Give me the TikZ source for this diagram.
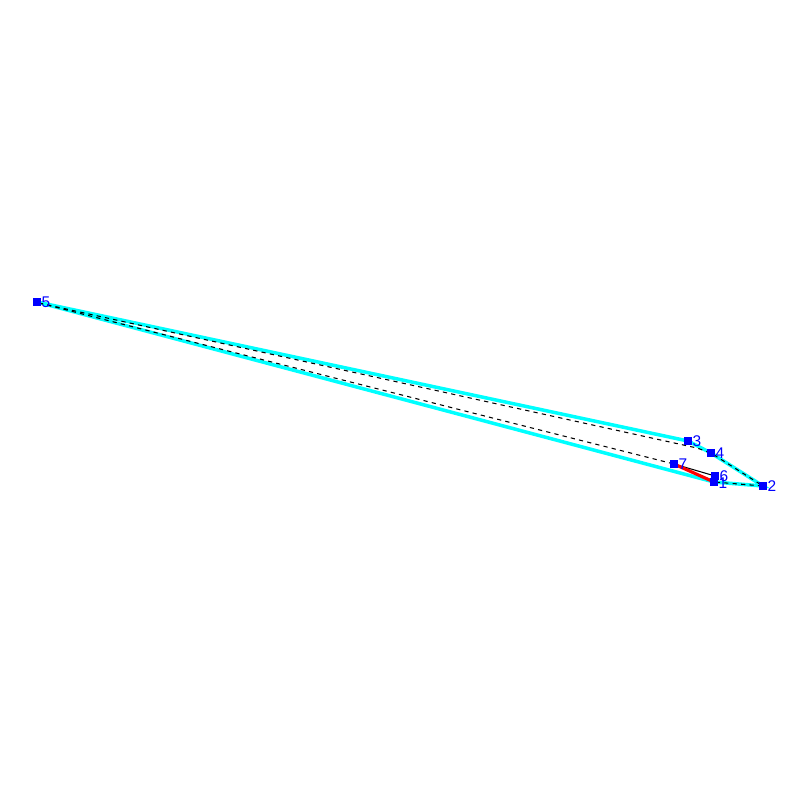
\documentclass[tikz,border=0pt]{standalone}
\usepackage{fontspec}
\setmainfont{Liberation Sans}
\definecolor{aqua}{RGB}{0,255,255}
\definecolor{pblue}{RGB}{0,0,255}
\definecolor{pred}{RGB}{255,0,0}
\begin{document}
\begin{tikzpicture}[x=0.01cm,y=-0.01cm,
  pt/.style={fill=pblue,draw=none,minimum size=0.08cm,inner sep=0pt,rectangle},
  lbl/.style={text=pblue,font=\fontsize{4.4}{4}\selectfont,inner sep=0pt,anchor=west},
  hull/.style={aqua,line width=1pt},
  dashl/.style={black,line width=0.3pt,dash pattern=on 1.2pt off 1.2pt},
  thinl/.style={black,line width=0.3pt},
  redl/.style={pred,line width=0.9pt}]
\useasboundingbox (0,0) rectangle (800,800);
\coordinate (c5) at (37,302);
\coordinate (c3) at (688,441);
\coordinate (c4) at (711,453);
\coordinate (c2) at (763,486);
\coordinate (c1) at (714,482);
\coordinate (c6) at (715,476);
\coordinate (c7) at (674,464);
\coordinate (d5) at (39,303);
\coordinate (d3) at (697,448);
\draw[hull] (c5) -- (c3) -- (c4) -- (c2) -- (c1) -- cycle;
\draw[dashl] (d5) -- (d3) -- (c4) -- (c2) -- (c1);
\draw[dashl] (d5) -- (c7);
\draw[thinl] (c7) -- (c6);
\draw[redl] (c7) -- (c1);
\foreach \n in {1,...,7} {
  \node[pt] (p\n) at (c\n) {};
}
\foreach \n in {2,...,7} {
  \node[lbl] (l\n) at ([xshift=0.04cm]c\n) {\n};
}
\node[lbl] (l1) at ([xshift=0.04cm,yshift=-0.01cm]c1) {1};
\end{tikzpicture}
\end{document}
